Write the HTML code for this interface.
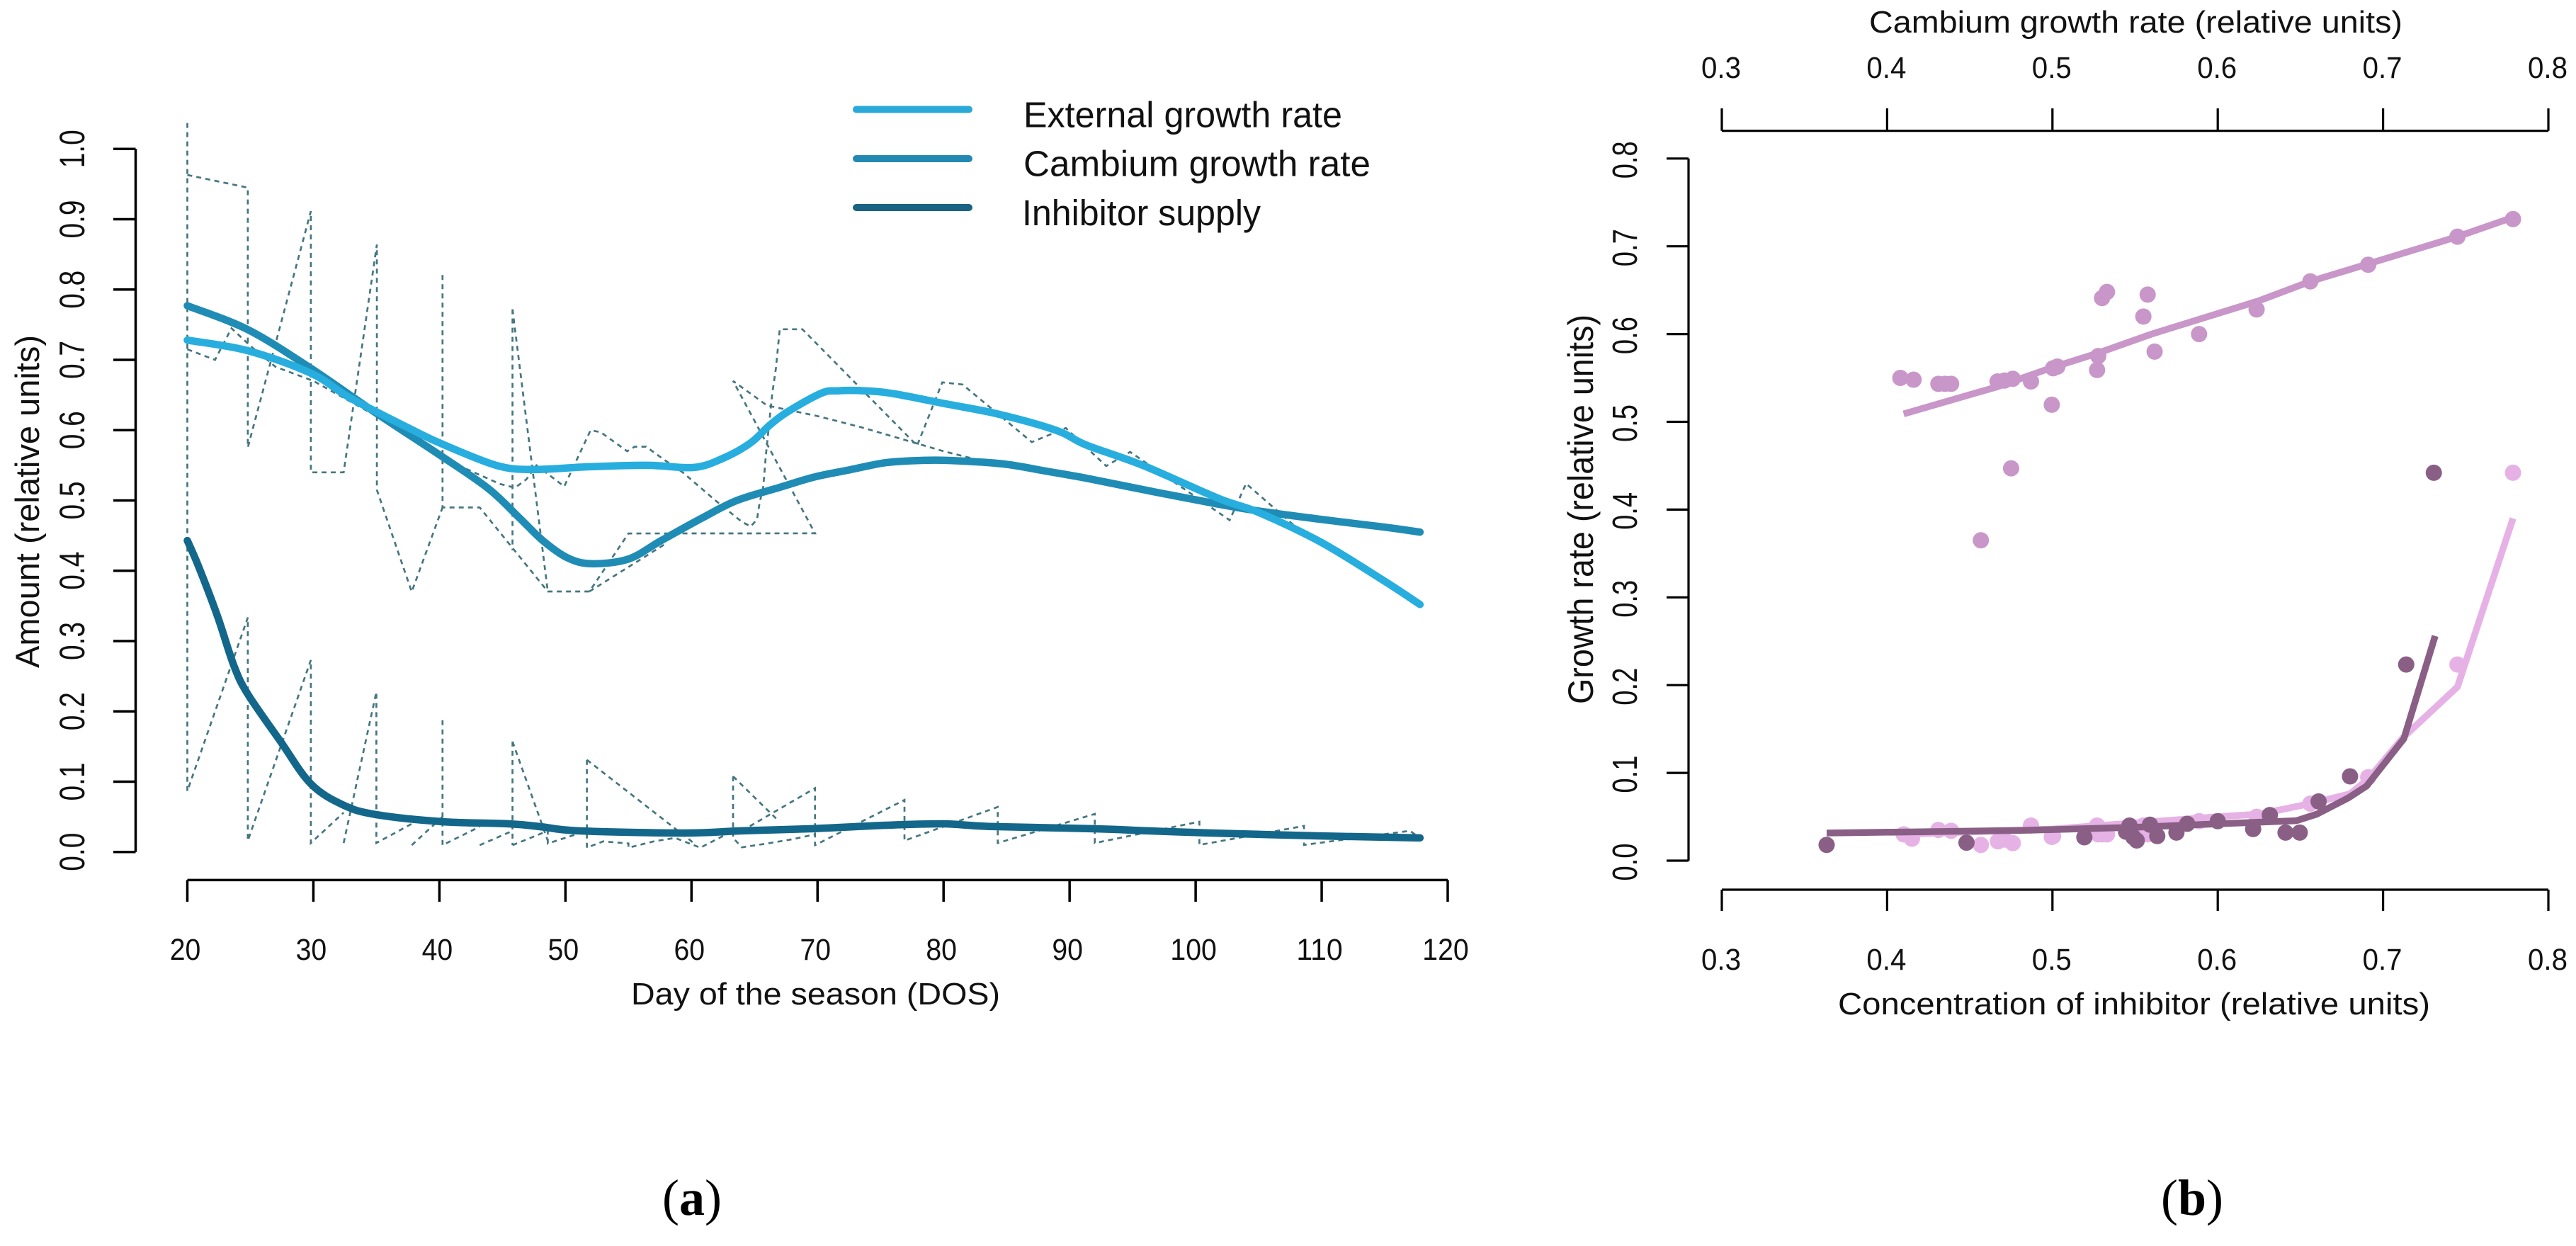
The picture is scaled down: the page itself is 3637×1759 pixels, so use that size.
<!DOCTYPE html>
<html lang="en">
<head>
<meta charset="utf-8">
<title>Growth rate and inhibitor charts</title>
<style>
html,body{margin:0;padding:0;background:#fff;width:3637px;height:1759px;overflow:hidden}
svg{position:absolute;left:0;top:0;display:block}
text{font-family:"Liberation Sans",sans-serif;fill:#111}
.cap{font-family:"Liberation Serif",serif;font-size:72px;fill:#000}
</style>
</head>
<body>
<svg id="figure" xmlns="http://www.w3.org/2000/svg" width="3637" height="1759" viewBox="0 0 3637 1759">
  <rect x="0" y="0" width="3637" height="1759" fill="#fff"/>

  <g id="panel-a">
    <g id="a-raw"></g>
    <g id="a-lines"></g>
    <g id="a-axes"></g>
    <text x="891" y="1418" font-size="44" textLength="521" lengthAdjust="spacingAndGlyphs">Day of the season (DOS)</text>
    <text transform="translate(55,943) rotate(-90)" font-size="47" textLength="470" lengthAdjust="spacingAndGlyphs">Amount (relative units)</text>
    <g>
      <line x1="1209" y1="154.5" x2="1368" y2="154.5" stroke="#2aaad8" stroke-width="10" stroke-linecap="round"/>
      <line x1="1209" y1="224" x2="1368" y2="224" stroke="#2389b3" stroke-width="10" stroke-linecap="round"/>
      <line x1="1209" y1="293" x2="1368" y2="293" stroke="#1a6383" stroke-width="10" stroke-linecap="round"/>
      <text x="1445" y="179.5" font-size="51" textLength="450" lengthAdjust="spacingAndGlyphs">External growth rate</text>
      <text x="1445" y="248.7" font-size="51" textLength="490" lengthAdjust="spacingAndGlyphs">Cambium growth rate</text>
      <text x="1443" y="318" font-size="51" textLength="337" lengthAdjust="spacingAndGlyphs">Inhibitor supply</text>
    </g>
    <text class="cap" x="977" y="1715" text-anchor="middle">(<tspan font-weight="bold">a</tspan>)</text>
  </g>

  <g id="panel-b">
    <g id="b-marks"></g>
    <g id="b-axes"></g>
    <text x="2639" y="46" font-size="44" textLength="753" lengthAdjust="spacingAndGlyphs">Cambium growth rate (relative units)</text>
    <text x="2595" y="1432" font-size="44" textLength="836" lengthAdjust="spacingAndGlyphs">Concentration of inhibitor (relative units)</text>
    <text transform="translate(2249,994) rotate(-90)" font-size="50" textLength="550" lengthAdjust="spacingAndGlyphs">Growth rate (relative units)</text>
    <text class="cap" x="3095" y="1715" text-anchor="middle">(<tspan font-weight="bold">b</tspan>)</text>
  </g>
</svg>

<script>
// ---------- Panel A data ----------
const aXTicks = [20,30,40,50,60,70,80,90,100,110,120];
const aXTickLabels = ["20","30","40","50","60","70","80","90","100","110","120"];
const aYTicks = [0,0.1,0.2,0.3,0.4,0.5,0.6,0.7,0.8,0.9,1.0];
const aYTickLabels = ["0.0","0.1","0.2","0.3","0.4","0.5","0.6","0.7","0.8","0.9","1.0"];

const externalDays = [20,24.8,29.8,33,37.9,40.25,44.5,47.4,51.9,56.5,60.2,62.5,64.7,66.2,67.7,70.3,71.6,73.7,76,80,84.2,88.9,91.3,95.8,101.8,105,110,115,117.8];
const externalValues = [0.728,0.713,0.681,0.645,0.60,0.58,0.55,0.544,0.548,0.55,0.547,0.56,0.582,0.607,0.627,0.6526,0.656,0.656,0.652,0.638,0.6234,0.6,0.579,0.55,0.503,0.483,0.44,0.385,0.352];

const cambiumDays = [20,24.8,29.8,35,40.25,43.9,46.3,48.2,50.1,52,55,57.6,60.8,63.6,67,69.8,72.6,75.4,78.2,80.4,84.7,88.1,91.3,96.9,101.8,105,110,115,117.8];
const cambiumValues = [0.777,0.743,0.688,0.624,0.562,0.5166,0.476,0.443,0.419,0.41,0.4167,0.443,0.4746,0.50,0.5186,0.5336,0.5437,0.5537,0.5569,0.5569,0.552,0.5418,0.5317,0.5116,0.4948,0.485,0.473,0.462,0.455];

const inhibitorDays = [20,20.9,22.4,23.7,24.8,27.4,29.8,32.4,35,40.25,45.5,48,51,59.4,64,69.4,75.5,80,83.6,92,96.2,101,109.7,117.8];
const inhibitorValues = [0.443,0.4058,0.335,0.2647,0.2244,0.157,0.0968,0.0665,0.053,0.043,0.04,0.036,0.03,0.0269,0.03,0.033,0.038,0.04,0.0363,0.033,0.03,0.027,0.0229,0.02];

// Raw dashed traces; null splits a trace into separate strokes.
const rawExternalDays = [20,22.2,23.5,25,27,30,35,40.25,44.8,46,46.9,47.7,49.9,52,52.8,54.9,55.5,56.4,57.9,59.3,61.9,64,64.7,65.2,65.4,65.7,65.9,66.4,66.7,67,68.8,77.9,79.9,81.5,87,89.7,92.9,94.8,102.7,104,107.9,110,114.5,116,117.8];
const rawExternalValues = [0.715,0.70,0.745,0.72,0.69,0.67,0.62,0.56,0.5235,0.518,0.53,0.55,0.52,0.6,0.597,0.57,0.5765,0.5765,0.557,0.54,0.5,0.4696,0.463,0.473,0.4964,0.52,0.564,0.651,0.688,0.7436,0.7436,0.578,0.668,0.665,0.583,0.603,0.549,0.569,0.472,0.524,0.463,0.44,0.389,0.37,0.352];

const rawCambiumDays = [20,24.8,24.8,29.8,29.8,32.4,35.04,35.04,37.8,40.25,null,40.25,40.25,43.2,48.6,51.9,55,69.8,63.3,66,70,73.5,80,84,null,45.8,45.8,null,45.8,48.6,null,51.9,58];
const rawCambiumValues = [0.963,0.945,0.5755,0.9115,0.54,0.54,0.864,0.515,0.37,0.49,null,0.8206,0.49,0.49,0.3705,0.3705,0.453,0.4532,0.67,0.635,0.62,0.604,0.57,0.552,null,0.772,0.429,null,0.772,0.3705,null,0.3705,0.439];

const rawInhibitorDays = [20,20,24.8,24.8,29.8,29.8,32.4,null,32.4,35,35,37.8,null,37.8,40.25,null,40.25,40.25,43.2,null,43.2,45.8,null,45.8,48.6,null,45.8,45.8,null,45.8,48.6,48.6,51.7,null,51.7,60.3,null,51.7,51.7,53,55,55,57,58.7,60.7,63.3,null,63.3,66.8,null,63.3,63.3,64,66,68,69.8,null,64,69.8,69.8,76.9,76.9,84.3,84.3,92,92,100.3,100.3,108.6,108.6,117,117.8];
const rawInhibitorValues = [1.037,0.0867,0.3335,0.016,0.273,0.0127,0.056,null,0.0127,0.2277,0.0127,0.04,null,0.0097,0.05,null,0.1874,0.0097,0.036,null,0.0097,0.03,null,0.157,0.016,null,0.157,0.0097,null,0.0097,0.03,0.012,0.03,null,0.131,0.011,null,0.131,0.006,0.015,0.012,0.006,0.015,0.02,0.006,0.03,null,0.1075,0.046,null,0.1075,0.02,0.0065,0.012,0.018,0.025,null,0.03,0.0907,0.0097,0.074,0.016,0.064,0.0127,0.054,0.0127,0.043,0.01,0.037,0.01,0.03,0.02];

// ---------- Panel B data ----------
const bTicksX = [0.3,0.4,0.5,0.6,0.7,0.8];
const bTickLabelsX = ["0.3","0.4","0.5","0.6","0.7","0.8"];
const bTicksY = [0,0.1,0.2,0.3,0.4,0.5,0.6,0.7,0.8];
const bTickLabelsY = ["0.0","0.1","0.2","0.3","0.4","0.5","0.6","0.7","0.8"];

const upperPointX = [0.408,0.416,0.431,0.4387,0.435,0.4668,0.471,0.476,0.487,0.4996,0.5004,0.503,0.527,0.5277,0.530,0.533,0.555,0.5576,0.5618,0.5887,0.6235,0.656,0.691,0.745,0.7786,0.475,0.4567];
const upperPointY = [0.55,0.548,0.5433,0.5433,0.5433,0.546,0.547,0.549,0.546,0.5195,0.561,0.563,0.559,0.575,0.641,0.648,0.62,0.645,0.58,0.6,0.628,0.66,0.679,0.711,0.731,0.447,0.365];
const upperLineX = [0.41,0.4668,0.50,0.527,0.56,0.625,0.656,0.691,0.745,0.7786];
const upperLineY = [0.509,0.54,0.562,0.578,0.60,0.638,0.66,0.68,0.711,0.733];

const lightPointX = [0.41,0.415,0.431,0.4387,0.4567,0.467,0.471,0.476,0.487,0.4996,0.5004,0.527,0.5277,0.53,0.533,0.555,0.5576,0.5618,0.5887,0.6235,0.656,0.691,0.745,0.7786];
const lightPointY = [0.03,0.025,0.035,0.034,0.018,0.022,0.024,0.02,0.04,0.027,0.028,0.04,0.03,0.03,0.03,0.04,0.03,0.035,0.045,0.05,0.065,0.095,0.2235,0.442];
const lightLineX = [0.41,0.5,0.55,0.6,0.625,0.656,0.68,0.691,0.712,0.745,0.7786];
const lightLineY = [0.03,0.036,0.043,0.05,0.053,0.065,0.076,0.093,0.14,0.198,0.39];

const darkPointX = [0.3634,0.448,0.5193,0.5445,0.5466,0.549,0.551,0.559,0.5634,0.575,0.5815,0.6,0.6214,0.6315,0.641,0.6496,0.661,0.68,0.714,0.7307];
const darkPointY = [0.018,0.0205,0.0266,0.033,0.04,0.0266,0.023,0.041,0.028,0.032,0.042,0.045,0.036,0.052,0.032,0.032,0.0675,0.096,0.2235,0.442];
const darkLineX = [0.3634,0.4815,0.55,0.6,0.6475,0.66,0.679,0.69,0.7126,0.7315];
const darkLineY = [0.0315,0.0345,0.038,0.042,0.0455,0.053,0.0715,0.085,0.139,0.256];

// ---------- Scales ----------
const ax = d => 264.5 + (d - 20) * 17.795;
const ay = v => 1202.7 - v * 992.4;
const bx = c => 2431 + (c - 0.3) * 2334;
const by = v => 1215 - v * 1239;

const NS = "http://www.w3.org/2000/svg";
function make(tag, parent, attrs) {
  const el = document.createElementNS(NS, tag);
  for (const k in attrs) el.setAttribute(k, attrs[k]);
  parent.appendChild(el);
  return el;
}
function pathFrom(xs, ys, fx, fy) {
  let d = "", start = true;
  for (let i = 0; i < xs.length; i++) {
    if (xs[i] === null) { start = true; continue; }
    d += (start ? "M" : "L") + fx(xs[i]).toFixed(1) + " " + fy(ys[i]).toFixed(1);
    start = false;
  }
  return d;
}
// Smooth curve through the data points (Catmull-Rom spline).
function smoothFrom(xs, ys, fx, fy) {
  const p = xs.map((x, i) => [fx(x), fy(ys[i])]);
  let d = "M" + p[0][0].toFixed(1) + " " + p[0][1].toFixed(1);
  for (let i = 0; i < p.length - 1; i++) {
    const a = p[Math.max(i - 1, 0)], b = p[i], c = p[i + 1], e = p[Math.min(i + 2, p.length - 1)];
    const c1x = b[0] + (c[0] - a[0]) / 6, c1y = b[1] + (c[1] - a[1]) / 6;
    const c2x = c[0] - (e[0] - b[0]) / 6, c2y = c[1] - (e[1] - b[1]) / 6;
    d += "C" + c1x.toFixed(1) + " " + c1y.toFixed(1) + " " + c2x.toFixed(1) + " " + c2y.toFixed(1) + " " + c[0].toFixed(1) + " " + c[1].toFixed(1);
  }
  return d;
}

// ---------- Panel A marks ----------
const aRaw = document.getElementById("a-raw");
const rawSeries = [
  ["raw-external-trace", rawExternalDays, rawExternalValues],
  ["raw-cambium-trace", rawCambiumDays, rawCambiumValues],
  ["raw-inhibitor-trace", rawInhibitorDays, rawInhibitorValues]
];
rawSeries.forEach(s => {
  const el = make("path", aRaw, {d: pathFrom(s[1], s[2], ax, ay), fill: "none", stroke: "#457680", "stroke-width": 2.7, "stroke-dasharray": "7 6"});
  
  
});

const aLines = document.getElementById("a-lines");
const thickSeries = [
  ["line-inhibitor-supply", inhibitorDays, inhibitorValues, "#13678a"],
  ["line-cambium-growth", cambiumDays, cambiumValues, "#1f8cb5"],
  ["line-external-growth", externalDays, externalValues, "#27aede"]
];
thickSeries.forEach(s => {
  const el = make("path", aLines, {d: smoothFrom(s[1], s[2], ax, ay), fill: "none", stroke: s[3], "stroke-width": 10.5, "stroke-linejoin": "round", "stroke-linecap": "round"});
  
  
});

// ---------- Panel A axes ----------
const aAxes = document.getElementById("a-axes");
const axisStyle = {stroke: "#000", "stroke-width": 3.5, fill: "none"};
const aXLine = make("line", aAxes, Object.assign({x1: ax(20), y1: 1242.4, x2: ax(120), y2: 1242.4}, axisStyle));


aXTicks.forEach((t, i) => {
  const tick = make("line", aAxes, Object.assign({x1: ax(t), y1: 1242.4, x2: ax(t), y2: 1273}, axisStyle));
  
  
  const lab = aXTickLabels[i];
  const label = make("text", aAxes, {x: ax(t) - 3, y: 1355, "font-size": 43, "text-anchor": "middle", textLength: lab.length * 21.8, lengthAdjust: "spacingAndGlyphs"});
  label.textContent = lab;
  
  
});
const aYLine = make("line", aAxes, Object.assign({x1: 191.5, y1: ay(0), x2: 191.5, y2: ay(1)}, axisStyle));


aYTicks.forEach((t, i) => {
  const tick = make("line", aAxes, Object.assign({x1: 160, y1: ay(t), x2: 191.5, y2: ay(t)}, axisStyle));
  
  
  const label = make("text", aAxes, {transform: "translate(119," + ay(t).toFixed(1) + ") rotate(-90)", "font-size": 50, "text-anchor": "middle", textLength: 54, lengthAdjust: "spacingAndGlyphs"});
  label.textContent = aYTickLabels[i];
  
  
});

// ---------- Panel B marks ----------
const bMarks = document.getElementById("b-marks");
const scatterSeries = [
  ["upper", upperPointX, upperPointY, upperLineX, upperLineY, "#c896c8"],
  ["light", lightPointX, lightPointY, lightLineX, lightLineY, "#e6b2e6"],
  ["dark", darkPointX, darkPointY, darkLineX, darkLineY, "#8a5f86"]
];
scatterSeries.forEach(s => {
  s[1].forEach((x, i) => {
    const dot = make("circle", bMarks, {cx: bx(x), cy: by(s[2][i]), r: 11.5, fill: s[5]});
    
    
  });
  const line = make("path", bMarks, {d: pathFrom(s[3], s[4], bx, by), fill: "none", stroke: s[5], "stroke-width": 9.5, "stroke-linejoin": "round"});
  
  
});

// ---------- Panel B axes ----------
const bAxes = document.getElementById("b-axes");
const bStyle = {stroke: "#000", "stroke-width": 3.2, fill: "none"};
const bTopLine = make("line", bAxes, Object.assign({x1: bx(0.3), y1: 184.7, x2: bx(0.8), y2: 184.7}, bStyle));


const bBottomLine = make("line", bAxes, Object.assign({x1: bx(0.3), y1: 1256, x2: bx(0.8), y2: 1256}, bStyle));


bTicksX.forEach((t, i) => {
  const topTick = make("line", bAxes, Object.assign({x1: bx(t), y1: 153, x2: bx(t), y2: 184.7}, bStyle));
  
  
  const bottomTick = make("line", bAxes, Object.assign({x1: bx(t), y1: 1256, x2: bx(t), y2: 1286}, bStyle));
  
  
  const topLabel = make("text", bAxes, {x: bx(t) - 1, y: 110, "font-size": 43, "text-anchor": "middle", textLength: 56, lengthAdjust: "spacingAndGlyphs"});
  topLabel.textContent = bTickLabelsX[i];
  
  
  const bottomLabel = make("text", bAxes, {x: bx(t) - 1, y: 1369, "font-size": 43, "text-anchor": "middle", textLength: 56, lengthAdjust: "spacingAndGlyphs"});
  bottomLabel.textContent = bTickLabelsX[i];
  
  
});
const bYLine = make("line", bAxes, Object.assign({x1: 2384, y1: by(0), x2: 2384, y2: by(0.8)}, bStyle));


bTicksY.forEach((t, i) => {
  const tick = make("line", bAxes, Object.assign({x1: 2353, y1: by(t), x2: 2384, y2: by(t)}, bStyle));
  
  
  const label = make("text", bAxes, {transform: "translate(2311," + (by(t) + 2).toFixed(1) + ") rotate(-90)", "font-size": 49, "text-anchor": "middle", textLength: 53, lengthAdjust: "spacingAndGlyphs"});
  label.textContent = bTickLabelsY[i];
  
  
});
</script>
</body>
</html>
